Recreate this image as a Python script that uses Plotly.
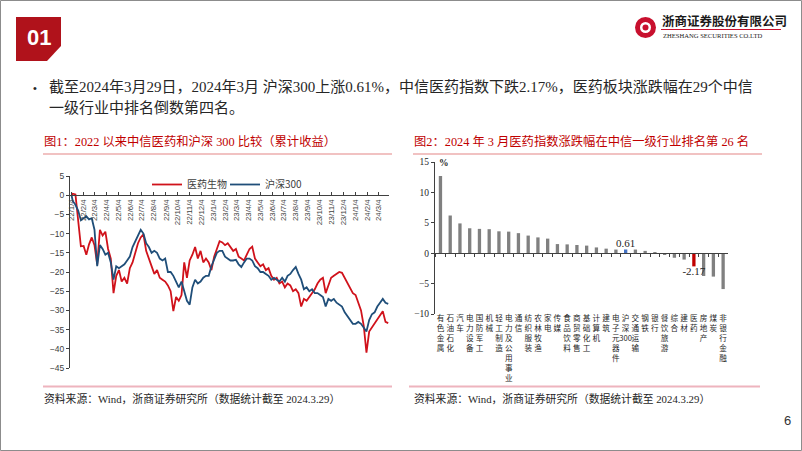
import plotly.graph_objects as go
import pandas as pd

W, H = 802, 451

# ---------------- data ----------------
# weekly closes (cumulative return %, since 2022-01-04)
line_dates = ["2022-01-04"] + [d.strftime("%Y-%m-%d") for d in pd.date_range("2022-01-07", periods=117, freq="7D")]

pharma = [0,
          0.4, 0.2, -7, -13.3, -13.2, -15.5, -12.8, -11, -13, -18,
          -9, -10.5, -9.5, -14, -16.5, -25.5, -21, -19.5, -22.5, -21.5,
          -23, -19, -17.5, -15, -12.5, -11, -10.2, -14.5, -16.5, -18.5,
          -20.5, -19.5, -21.5, -22, -22.5, -23.5, -25, -30.2, -26.5, -27.5,
          -26, -17.5, -21.5, -17, -15.5, -13.5, -16.5, -14.5, -17.5, -16.5,
          -17.5, -19.5, -16, -14, -12, -12.3, -13,
          -12.5, -13.5, -14.5, -14, -16, -16.5, -17, -15.5, -14, -13.4,
          -16.5, -17.5, -18.5, -18, -19.5, -19, -21, -22, -21.5, -23,
          -22.5, -24, -23, -23.5, -25, -24.5, -25.5, -29, -27, -27.5,
          -26.5, -25.5, -24.5, -23, -22, -21.5, -25.5, -23.5, -21.5, -21,
          -20.5, -20, -20.2, -21.5, -23, -24.5, -25.5, -26, -28, -30,
          -34, -41, -35.5, -34.5, -33.5, -32.5, -31.5, -30.2, -33, -33.3]

hs300 = [0,
         -1.5, -2.5, -4, -6.5, -6, -5.5, -6.3, -6, -9, -18.5,
         -13, -14, -15.5, -15, -17.5, -22, -18.5, -19, -18.5, -18,
         -17, -16, -13.5, -12, -10.5, -9, -10, -12.5, -13.5, -15,
         -14.5, -15, -16.5, -17, -16.5, -20, -20, -21, -22.5, -24,
         -22.5, -25, -27.5, -28.5, -24, -22, -23, -22.5, -21.5, -21,
         -21, -18.5, -16.5, -15, -14.5, -14.5, -16,
         -16.5, -17, -17, -16.8, -18, -18.7, -17.5, -16.5, -16.5, -17,
         -18.5, -19, -20, -20, -20.5, -21, -22, -21.5, -22, -22.5,
         -21.5, -22.5, -21, -20.5, -19.5, -18.7, -20.5, -22, -24.5, -24,
         -25, -24.5, -25.5, -25.5, -26, -26.5, -29, -27, -27.5, -27,
         -28, -28.5, -29, -30.5, -31.5, -32.5, -33.5, -33.5, -33, -33.5,
         -34.5, -35.5, -32.5, -31, -30.5, -29, -28, -27, -28, -28.3]

month_labels = ["22/1/4", "22/2/4", "22/3/4", "22/4/4", "22/5/4", "22/6/4", "22/7/4",
                "22/8/4", "22/9/4", "22/10/4", "22/11/4", "22/12/4", "23/1/4", "23/2/4",
                "23/3/4", "23/4/4", "23/5/4", "23/6/4", "23/7/4", "23/8/4", "23/9/4",
                "23/10/4", "23/11/4", "23/12/4", "24/1/4", "24/2/4", "24/3/4"]

industries = ["有色金属", "石油石化", "汽车", "电力设备", "国防军工", "机械", "轻工制造",
              "电力及公用事业", "通信", "纺织服装", "农林牧渔", "家电", "传媒", "食品饮料",
              "商贸零售", "基础化工", "计算机", "建筑", "电子元器件", "沪深300", "交通运输",
              "钢铁", "银行", "餐饮旅游", "综合", "建材", "医药", "房地产", "煤炭", "非银行金融"]
returns = [12.7, 6.2, 4.9, 4.1, 4.0, 3.95, 3.6, 3.55, 3.3, 2.9, 2.6, 2.4, 1.5, 1.45,
           1.35, 1.25, 0.95, 0.75, 0.6, 0.61, 0.6, 0.38, 0.05, -0.25, -0.75, -1.05,
           -2.17, -3.75, -3.85, -5.9]
labelled = ["沪深300", "医药"]

# ---------------- helpers ----------------
def fx(p):
    return p / W

def fy(p):
    return 1 - p / H

SERIF = "Liberation Serif, Noto Sans CJK SC, serif"
SANS = "Liberation Sans, Noto Sans CJK SC, sans-serif"
CJK = "Noto Sans CJK SC, sans-serif"
RED = "#C00000"
TXT = "#262626"

def month_to_date(lbl):
    y, m, d = lbl.split("/")
    return f"20{y}-{int(m):02d}-{int(d):02d}"

def vertical(name):
    if name == "沪深300":
        return "沪<br>深<br>300"
    return "<br>".join(list(name))

fig = go.Figure()

# ---------------- chart 1: lines ----------------
fig.add_trace(go.Scatter(x=line_dates, y=pharma, mode="lines", name="医药生物",
                         line=dict(color="#D0121B", width=1.8), xaxis="x", yaxis="y"))
fig.add_trace(go.Scatter(x=line_dates, y=hs300, mode="lines", name="沪深300",
                         line=dict(color="#1F4E79", width=1.8), xaxis="x", yaxis="y"))

# ---------------- chart 2: bars ----------------
bar_colors = ["#4472C4" if c == "沪深300" else ("#C00000" if c == "医药" else "#808080") for c in industries]
fig.add_trace(go.Bar(x=industries, y=returns, marker=dict(color=bar_colors, line=dict(width=0)),
                     showlegend=False, xaxis="x2", yaxis="y2"))
lab_x = [c for c in industries if c in labelled]
lab_y = [v for c, v in zip(industries, returns) if c in labelled]
fig.add_trace(go.Scatter(x=lab_x, y=lab_y, mode="text", text=[f"{v:.2f}" for v in lab_y],
                         textposition=["top center" if v >= 0 else "bottom center" for v in lab_y],
                         textfont=dict(family=SERIF, size=11, color=TXT), cliponaxis=False,
                         showlegend=False, xaxis="x2", yaxis="y2"))

# axes geometry
y1_dom = [fy(368), fy(176)]
y1_rng = [-45, 5]
y1_zero = y1_dom[0] + (0 - y1_rng[0]) / (y1_rng[1] - y1_rng[0]) * (y1_dom[1] - y1_dom[0])

y2_dom = [fy(314), fy(162)]
y2_rng = [-10, 15]
y2_zero = y2_dom[0] + (0 - y2_rng[0]) / (y2_rng[1] - y2_rng[0]) * (y2_dom[1] - y2_dom[0])

fig.update_layout(
    width=W, height=H, margin=dict(l=0, r=0, t=0, b=0, autoexpand=False),
    paper_bgcolor="white", plot_bgcolor="rgba(0,0,0,0)",
    bargap=0.66,
    xaxis=dict(domain=[fx(70), fx(389)], type="date", range=["2021-12-31", "2024-03-31"],
               anchor="free", position=y1_zero, showline=True, linecolor="#404040", linewidth=1,
               ticks="inside", ticklen=3, tickcolor="#404040",
               tickvals=[month_to_date(m) for m in month_labels], ticktext=month_labels,
               tickangle=-90, tickfont=dict(family=SANS, size=7.8, color="#404040"),
               showgrid=False, zeroline=False, automargin=False),
    yaxis=dict(domain=y1_dom, range=y1_rng, anchor="x", dtick=5, tick0=0,
               showline=True, linecolor="#404040", linewidth=1, ticks="outside", ticklen=3,
               tickcolor="#404040", tickfont=dict(family=SANS, size=8.5, color="#404040"),
               showgrid=False, zeroline=False, automargin=False),
    xaxis2=dict(domain=[fx(435), fx(728)], type="category", categoryorder="array",
                categoryarray=industries, range=[-0.56, 29.5],
                anchor="free", position=y2_zero, showline=True, linecolor="#404040", linewidth=1,
                ticks="outside", ticklen=3, tickcolor="#404040", tickson="boundaries",
                tickvals=industries, ticktext=[vertical(c) for c in industries], tickangle=0,
                tickfont=dict(family=CJK, size=7.6, color=TXT), ticklabelstandoff=58,
                showgrid=False, zeroline=False, automargin=False),
    yaxis2=dict(domain=y2_dom, range=y2_rng, anchor="x2", dtick=5, tick0=0,
                showline=True, linecolor="#404040", linewidth=1, ticks="outside", ticklen=3,
                tickcolor="#404040", tickfont=dict(family=SERIF, size=9.5, color=TXT),
                showgrid=False, zeroline=False, automargin=False),
    legend=dict(x=fx(147), y=fy(170), xanchor="left", yanchor="top", orientation="h",
                font=dict(family=CJK, size=10, color="#404040"), bgcolor="rgba(0,0,0,0)",
                itemwidth=30, entrywidth=33, entrywidthmode="pixels"),
)

# ---------------- decorations ----------------
shapes = []
# page border
shapes.append(dict(type="rect", xref="paper", yref="paper", x0=fx(0.5), x1=fx(801.5), y0=fy(450.5), y1=fy(0.5),
                   line=dict(color="#8c8c8c", width=1)))
# "01" tab
path = "M {},{} L {},{} L {},{} L {},{} L {},{} Z".format(
    fx(16), fy(17), fx(61), fy(17), fx(61), fy(46), fx(47), fy(61), fx(16), fy(61))
shapes.append(dict(type="path", xref="paper", yref="paper", path=path,
                   fillcolor="#B0121B", line=dict(width=0)))
# logo
shapes.append(dict(type="circle", xref="paper", yref="paper", x0=fx(635), x1=fx(656), y0=fy(38), y1=fy(17),
                   fillcolor="#C8102E", line=dict(width=0)))
shapes.append(dict(type="circle", xref="paper", yref="paper", x0=fx(640), x1=fx(651), y0=fy(33), y1=fy(22),
                   fillcolor="white", line=dict(width=0)))
shapes.append(dict(type="circle", xref="paper", yref="paper", x0=fx(642.5), x1=fx(648.5), y0=fy(30.5), y1=fy(24.5),
                   fillcolor="#C8102E", line=dict(width=0)))
shapes.append(dict(type="line", xref="paper", yref="paper", x0=fx(661), x1=fx(781), y0=fy(29.5), y1=fy(29.5),
                   line=dict(color="#C8102E", width=1)))
# title underlines
for x0, x1 in [(43, 392), (413, 762)]:
    shapes.append(dict(type="line", xref="paper", yref="paper", x0=fx(x0), x1=fx(x1), y0=fy(154), y1=fy(154),
                       line=dict(color="#E38585", width=1.2)))
# source lines
for x0, x1 in [(43, 392), (409, 760)]:
    shapes.append(dict(type="line", xref="paper", yref="paper", x0=fx(x0), x1=fx(x1), y0=fy(386.5), y1=fy(386.5),
                       line=dict(color="#EEB4BE", width=2)))
fig.update_layout(shapes=shapes)

ann = []
def text(x, y, s, size, color=TXT, family=SERIF, xanchor="left", bold=False):
    if bold:
        s = f"<b>{s}</b>"
    ann.append(dict(x=fx(x), y=fy(y), xref="paper", yref="paper", text=s, showarrow=False,
                    xanchor=xanchor, yanchor="middle", font=dict(family=family, size=size, color=color)))

text(38.5, 38, "01", 22, "white", "Liberation Sans, Arial, sans-serif", "center", bold=True)
text(660, 21, "浙商证券股份有限公司", 12.5, "#1a1a1a", CJK, bold=True)
text(661, 35.5, "ZHESHANG SECURITIES CO.LTD", 6.6, "#1a1a1a", SERIF)
text(31, 88, "•", 11, TXT, SANS)
text(47, 87, "截至2024年3月29日，2024年3月 沪深300上涨0.61%，中信医药指数下跌2.17%，医药板块涨跌幅在29个中信", 15, TXT, SERIF)
text(47, 107, "一级行业中排名倒数第四名。", 15, TXT, SERIF)
text(42, 141, "图1：2022 以来中信医药和沪深 300 比较（累计收益）", 12.3, RED, SERIF)
text(412, 141, "图2：2024 年 3 月医药指数涨跌幅在中信一级行业排名第 26 名", 12.3, RED, SERIF)
text(42, 398, "资料来源：Wind，浙商证券研究所（数据统计截至 2024.3.29）", 10.8, TXT, SERIF)
text(412, 398, "资料来源：Wind，浙商证券研究所（数据统计截至 2024.3.29）", 10.8, TXT, SERIF)
text(437, 163, "<b>%</b>", 9.5, TXT, SERIF)
text(787, 420, "6", 13, "#333333", SANS, "center")
fig.update_layout(annotations=ann)

fig.write_html("out.html")
